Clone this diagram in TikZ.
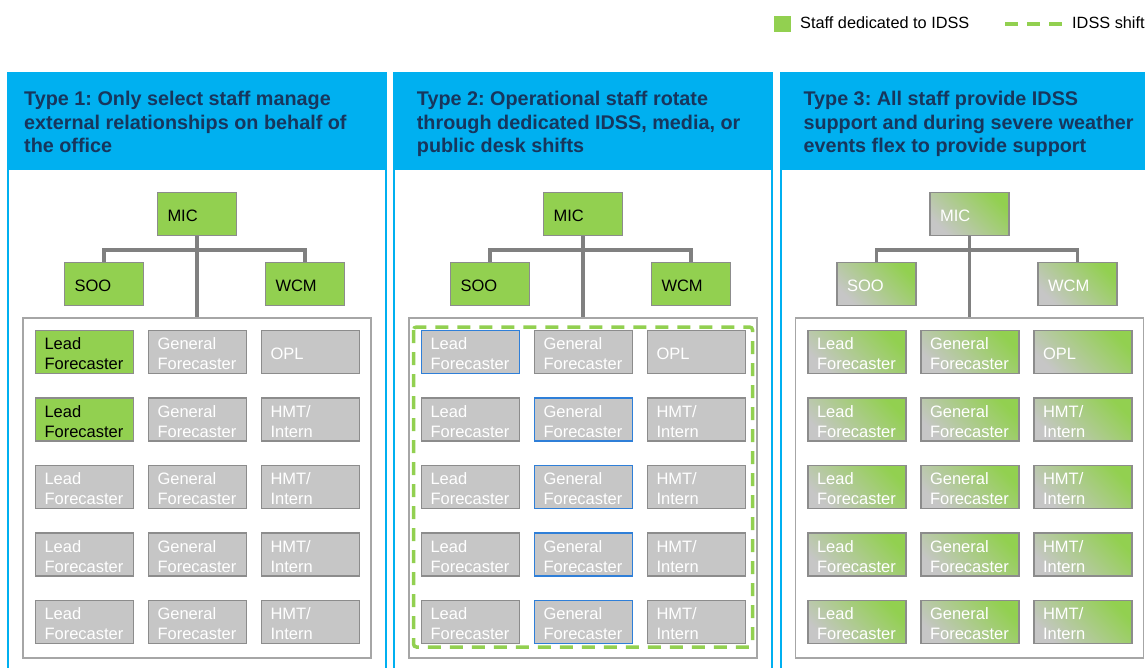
\documentclass[tikz,border=0pt]{standalone}
\usepackage{fontspec}
\setmainfont{Liberation Sans}
\frenchspacing
\definecolor{pblue}{HTML}{00B0F0}
\definecolor{hdrtext}{HTML}{17365D}
\definecolor{igreen}{HTML}{92D050}
\definecolor{bgray}{HTML}{C6C6C6}
\definecolor{bline}{HTML}{8C8C8C}
\definecolor{cline}{HTML}{808080}
\definecolor{poolline}{HTML}{A6A6A6}
\definecolor{bluebox}{HTML}{2F7FD8}
\tikzset{
 every node/.style={font=\fontsize{16.5}{20}\selectfont},
 hdr/.style={font=\bfseries\fontsize{19.8}{23.5}\selectfont, text=hdrtext, align=left, inner sep=0pt, anchor=north west},
 box/.style={draw=bline, line width=1.5pt, fill=bgray, text=white, minimum width=98pt, minimum height=43pt, inner xsep=9pt, inner ysep=0pt, text width=80pt, align=left, execute at begin node={\rule{0pt}{15.5pt}}},
 topbox/.style={box, minimum width=79pt, text width=59pt, inner xsep=10pt},
 grn/.style={fill=igreen, text=black},
 blu/.style={draw=bluebox},
 shd/.style={top color=igreen, bottom color=bgray, shading angle=-45, text=white},
 conn/.style={draw=cline, line width=3.5pt},
 pool/.style={draw=poolline, line width=1.5pt, fill=white, minimum width=348pt, minimum height=340pt, inner sep=0pt},
 idssdash/.style={draw=igreen, line width=3.5pt, dash pattern=on 13pt off 9pt},
 pborder/.style={draw=pblue, line width=2pt},
 hdrfill/.style={fill=pblue},
}
\newcommand\orgtop[2]{%
 \fill[hdrfill] (7.3,72) rectangle (386.7,170);
 \draw[pborder] (8.3,73) rectangle (385.7,700);
 \node[pool] (#1pool) at (197,488) {};
 \node[topbox,#2] (#1mic) at (197,214) {MIC};
 \node[topbox,#2] (#1soo) at (104,284) {SOO};
 \node[topbox,#2] (#1wcm) at (305,284) {WCM};
 \coordinate (#1j) at (197,250);
 \draw[conn] (#1soo.north) |- (#1j) -| (#1wcm.north);
 \draw[conn] (#1mic.south) -- (#1pool.north);
}
\newcommand\staffrow[7]{%
 \node[box,#4] (#1l#2) at (84.5,#3) {Lead\\Forecaster};
 \node[box,#5] (#1g#2) at (197.5,#3) {General\\Forecaster};
 \node[box,#6] (#1h#2) at (310.5,#3) {#7};
}
\begin{document}
\begin{tikzpicture}[x=1pt,y=-1pt]
\useasboundingbox (0,0) rectangle (1145,668);
\clip (0,0) rectangle (1145,668);
\fill[white] (0,0) rectangle (1145,668);
% legend
\node[fill=igreen, minimum width=17pt, minimum height=16pt, inner sep=0pt] (legsq) at (782.5,24) {};
\node[anchor=base west, inner sep=0pt, font=\fontsize{16.3}{19}\selectfont] (legt1) at (800,29) {Staff dedicated to IDSS};
\coordinate (ld1) at (1005,24);
\coordinate (ld2) at (1063,24);
\draw[idssdash, line width=4pt] (ld1) -- (ld2);
\node[anchor=base west, inner sep=0pt, font=\fontsize{16.3}{19}\selectfont] (legt2) at (1072,29) {IDSS shift};
% panel 1
\begin{scope}
 \orgtop{a}{grn}
 \node[hdr] (ah) at (24,91) {Type 1: Only select staff manage\\external relationships on behalf of\\the office};
 \staffrow{a}{1}{352}{grn}{}{}{OPL}
 \staffrow{a}{2}{419.5}{grn}{}{}{HMT/\\Intern}
 \staffrow{a}{3}{487}{}{}{}{HMT/\\Intern}
 \staffrow{a}{4}{554.5}{}{}{}{HMT/\\Intern}
 \staffrow{a}{5}{622}{}{}{}{HMT/\\Intern}
\end{scope}
% panel 2
\begin{scope}[xshift=386pt]
 \orgtop{b}{grn}
 \node[hdr] (bh) at (30.7,91) {Type 2: Operational staff rotate\\through dedicated IDSS, media, or\\public desk shifts};
 \staffrow{b}{1}{352}{blu}{}{}{OPL}
 \staffrow{b}{2}{419.5}{}{blu}{}{HMT/\\Intern}
 \staffrow{b}{3}{487}{}{blu}{}{HMT/\\Intern}
 \staffrow{b}{4}{554.5}{}{blu}{}{HMT/\\Intern}
 \staffrow{b}{5}{622}{}{blu}{}{HMT/\\Intern}
 \draw[idssdash, rounded corners=3pt] (27.5,327) rectangle (366.5,647);
\end{scope}
% panel 3
\begin{scope}[xshift=772.5pt]
 \orgtop{c}{shd}
 \node[hdr] (ch) at (30.8,91) {Type 3: All staff provide IDSS\\support and during severe weather\\events flex to provide support};
 \staffrow{c}{1}{352}{shd}{shd}{shd}{OPL}
 \staffrow{c}{2}{419.5}{shd}{shd}{shd}{HMT/\\Intern}
 \staffrow{c}{3}{487}{shd}{shd}{shd}{HMT/\\Intern}
 \staffrow{c}{4}{554.5}{shd}{shd}{shd}{HMT/\\Intern}
 \staffrow{c}{5}{622}{shd}{shd}{shd}{HMT/\\Intern}
\end{scope}
\end{tikzpicture}
\end{document}
